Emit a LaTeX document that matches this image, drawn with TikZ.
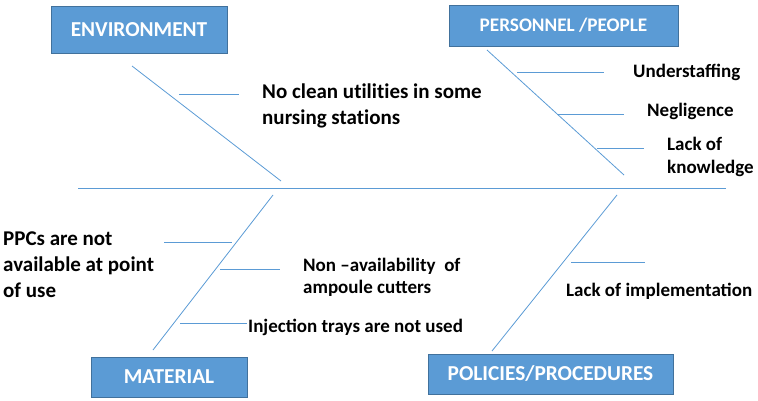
\documentclass[tikz,border=0pt]{standalone}
\usepackage{fontspec}
\setmainfont{Carlito}
\definecolor{boxblue}{HTML}{5B9BD5}
\definecolor{boxedge}{HTML}{41719C}

\begin{document}
\begin{tikzpicture}[x=1pt,y=-1pt,
    category/.style={draw=boxedge,fill=boxblue,text=white,inner sep=0pt,
      font=\bfseries\fontsize{21.3}{25}\selectfont},
    cause/.style={anchor=base west,inner sep=0pt,align=left,
      font=\bfseries\fontsize{19}{26}\selectfont},
    bigcause/.style={cause,font=\bfseries\fontsize{21}{26}\selectfont\addfontfeature{Ligatures=NoCommon}},
    bone/.style={draw=boxblue,line width=0.8pt}]
    \useasboundingbox (0,0) rectangle (758,401);
    % categories
    \node[category,minimum width=176pt,minimum height=47pt] (env) at (139,29.5) {ENVIRONMENT};
    \node[category,minimum width=229pt,minimum height=41pt,font=\bfseries\fontsize{19.2}{23}\selectfont] (ppl) at (563.5,25.5) {PERSONNEL /PEOPLE};
    \node[category,minimum width=156pt,minimum height=40pt] (mat) at (169,377) {MATERIAL};
    \node[category,minimum width=245pt,minimum height=40pt] (pol) at (550.5,374) {POLICIES/PROCEDURES};
    % spine and bones
    \coordinate (tail) at (78,188);
    \coordinate (head) at (726,188);
    \coordinate (e0) at (132,66);  \coordinate (e1) at (281,181);
    \coordinate (p0) at (487,50);  \coordinate (p1) at (624,175);
    \coordinate (m0) at (273,195); \coordinate (m1) at (153,350);
    \coordinate (q0) at (617,195); \coordinate (q1) at (492,351);
    \draw[bone] (tail) -- (head);
    \draw[bone] (e0) -- (e1);
    \draw[bone] (p0) -- (p1);
    \draw[bone] (m0) -- (m1);
    \draw[bone] (q0) -- (q1);
    % causes (base = last line)
    \node[bigcause] (c1) at (262,125) {No clean utilities in some\\nursing stations};
    \node[cause] (c2) at (633,78) {Understaffing};
    \node[cause] (c3) at (647,117) {Negligence};
    \node[cause,font=\bfseries\fontsize{19}{23}\selectfont] (c4) at (667,174) {Lack of\\knowledge};
    \node[bigcause] (c5) at (3,297) {PPCs are not\\available at point\\of use};
    \node[cause,font=\bfseries\fontsize{19}{21.5}\selectfont] (c6) at (303,293) {Non –availability\ \ of\\ampoule cutters};
    \node[cause] (c7) at (248,332) {Injection trays are not used};
    \node[cause] (c8) at (566,296) {Lack of implementation};
    % sub-bones
    \coordinate (s1a) at (179,94);  \coordinate (s1b) at (239,94);
    \coordinate (s2a) at (517,72);  \coordinate (s2b) at (604,72);
    \coordinate (s3a) at (557,114); \coordinate (s3b) at (624,114);
    \coordinate (s4a) at (597,148); \coordinate (s4b) at (644,148);
    \coordinate (s5a) at (164,242); \coordinate (s5b) at (232,242);
    \coordinate (s6a) at (220,269); \coordinate (s6b) at (280,269);
    \coordinate (s7a) at (180,323); \coordinate (s7b) at (247,323);
    \coordinate (s8a) at (571,262); \coordinate (s8b) at (645,262);
    \foreach \s in {1,...,8}
      \draw[bone] (s\s a) -- (s\s b);
\end{tikzpicture}
\end{document}
